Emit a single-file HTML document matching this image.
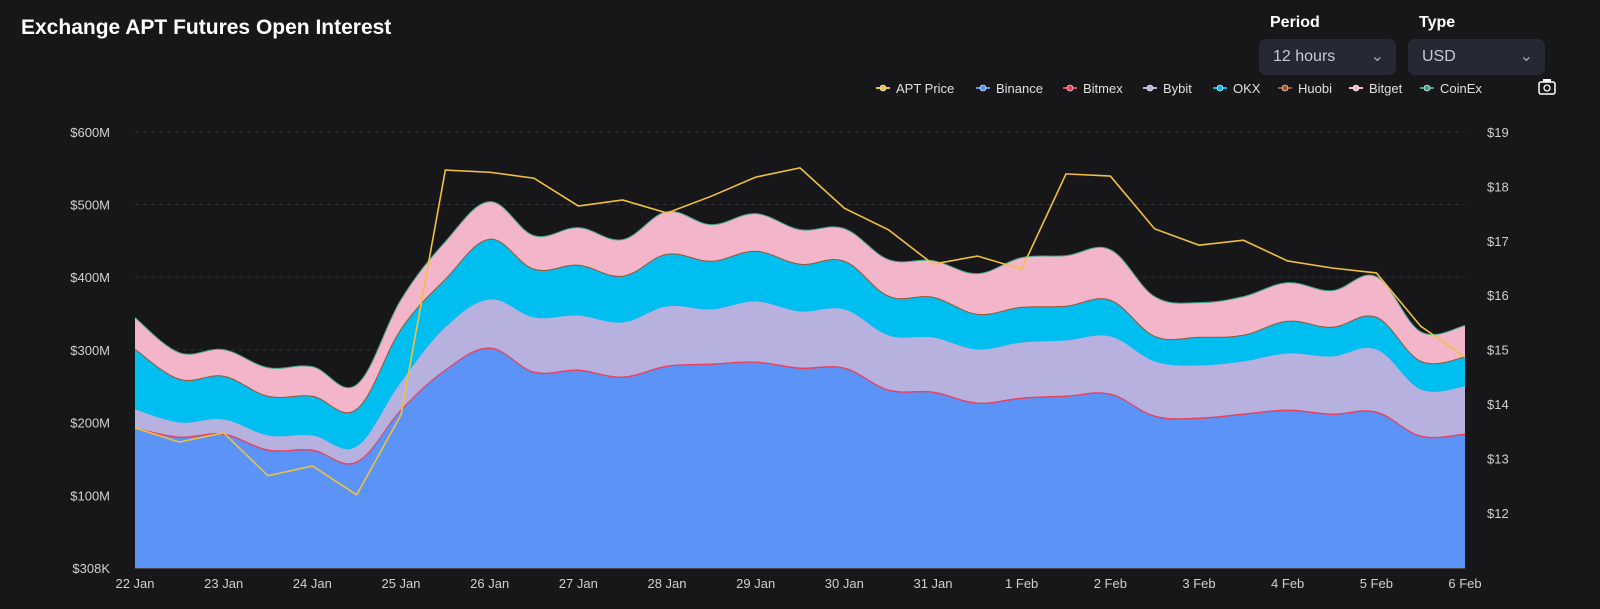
<!DOCTYPE html>
<html><head><meta charset="utf-8">
<style>
html,body{margin:0;padding:0;background:#17171a;width:1600px;height:609px;overflow:hidden;font-family:"Liberation Sans",sans-serif;color:#fff}
.title{position:absolute;left:21px;top:16px;font-size:21px;font-weight:bold}
.lbl{position:absolute;top:14px;font-size:16px;font-weight:bold}
.sel{position:absolute;top:39px;height:36px;width:137px;background:#262833;border-radius:7px;font-size:16px;color:#c8cad4;line-height:36px;box-sizing:border-box;padding-left:14px}
.sel span{position:absolute;right:12px;top:0;color:#aaa}
svg{position:absolute;left:0;top:0}
</style></head><body>
<div class="title">Exchange APT Futures Open Interest</div>
<div class="lbl" style="left:1270px">Period</div>
<div class="lbl" style="left:1419px">Type</div>
<div class="sel" style="left:1259px">12 hours<span>&#8964;</span></div>
<div class="sel" style="left:1408px">USD<span>&#8964;</span></div>
<svg id="c" width="1600" height="609"></svg>
<script>
const categories=["22 Jan","","23 Jan","","24 Jan","","25 Jan","","26 Jan","","27 Jan","","28 Jan","","29 Jan","","30 Jan","","31 Jan","","1 Feb","","2 Feb","","3 Feb","","4 Feb","","5 Feb","","6 Feb"];
const binance=[190.6,178.2,182.3,160.3,160.3,143.8,215.3,270.3,300.6,267.6,270.3,260.7,275.8,278.6,281.4,273.1,273.1,242.9,240.1,225,231.8,234.6,237.3,207.1,204.3,209.8,215.3,209.8,212.6,179.6,182.3];
const bitmex=[2,2,2,2,2,2,2,2,2,2,2,2,2,2,2,2,2,2,2,2,2,2,2,2,2,2,2,2,2,2,2];
const bybit=[24.7,19.2,19.3,19.3,19.3,20.6,37.2,57.8,66,74.3,74.3,74.3,81.2,74.3,82.5,77,79.8,74.2,74.3,72.9,75.7,75.6,78.4,74.3,71.6,71.6,77.1,78.4,85.3,63.3,64.7];
const okx=[82.6,59.2,59.1,53.6,53.6,50.9,72.9,66,82.6,66,68.8,63.3,71.5,66,68.8,64.7,66,53.7,55,48.1,48.1,46.8,49.6,34.3,38.5,35.7,44,39.9,44,38.5,39.9];
const huobi=[1,1,1,1,1,1,1,1,1,1,1,1,1,1,1,1,1,1,1,1,1,1,1,1,1,1,1,1,1,1,1];
const bitget=[43,36.1,36.2,38.9,40.3,33.4,40.2,51.3,51.2,45.8,51.3,49.9,58.2,49.9,51.2,47.1,44.4,49.9,49.9,55.4,67.8,69.1,69.1,54.1,47.1,52.7,52.6,49.9,55.4,40.2,43];
const coinex=[0.5,0.5,0.5,0.5,0.5,0.5,0.5,0.5,0.5,0.5,0.5,0.5,0.5,0.5,0.5,0.5,0.5,0.5,0.5,0.5,0.5,0.5,0.5,0.5,0.5,0.5,0.5,0.5,0.5,0.5,0.5];
const price=[13.56,13.3,13.47,12.68,12.86,12.33,13.8,18.3,18.26,18.15,17.64,17.75,17.51,17.82,18.17,18.34,17.6,17.2,16.57,16.72,16.48,18.23,18.19,17.22,16.92,17.01,16.63,16.5,16.41,15.43,14.86];
const leftTicks=["$308K","$100M","$200M","$300M","$400M","$500M","$600M"];
const rightTicks=[12,13,14,15,16,17,18,19];

const NS="http://www.w3.org/2000/svg";
const svg=document.getElementById('c');
const X0=135,X1=1465;
const xs=i=>X0+i*(X1-X0)/(categories.length-1);
const yL=v=>568-v*0.727;
const yR=p=>132+(19-p)*54.4;
function mk(t,a,p){const e=document.createElementNS(NS,t);for(const k in a)e.setAttribute(k,a[k]);(p||svg).appendChild(e);return e;}
// grid
for(let k=0;k<leftTicks.length;k++){
  const y=yL(k*100);
  if(k>0){const g=mk('line',{x1:X0,x2:X1,y1:y,y2:y,stroke:'#333338','stroke-dasharray':'4,4'});
  
  }
  const t=mk('text',{x:110,y:y+5,'text-anchor':'end',fill:'#d0d0d0','font-size':13});
  t.textContent=leftTicks[k];
  
  
}
rightTicks.forEach(p=>{
  const t=mk('text',{x:1487,y:yR(p)+5,fill:'#d0d0d0','font-size':13});
  t.textContent='$'+p;
  
  
});
mk('line',{x1:X0,x2:X1,y1:568,y2:568,stroke:'#777'});
categories.forEach((c,i)=>{
  if(!c)return;
  const t=mk('text',{x:xs(i),y:588,'text-anchor':'middle',fill:'#d0d0d0','font-size':13});
  t.textContent=c;
  
  
});
const wm=mk('text',{x:790,y:378,'text-anchor':'middle',fill:'#ffffff','fill-opacity':0.06,'font-size':64,'font-weight':'bold'});
wm.textContent='coinglass.com';


// stacking
const series=[["Binance",binance,'#5b93f6'],["Bitmex",bitmex,'#e8425f'],["Bybit",bybit,'#b7b1e0'],["OKX",okx,'#00bff0'],["Huobi",huobi,'#a0522d'],["Bitget",bitget,'#f2b5c9'],["CoinEx",coinex,'#3fa58a']];
let cum=binance.map(()=>0);const tops=[];
series.forEach(s=>{cum=cum.map((v,i)=>v+s[1][i]);tops.push(cum.slice());});
function smooth(pts){
  let d='';const n=pts.length;
  for(let i=0;i<n;i++){
    if(i===0){d+='M'+pts[0][0]+','+pts[0][1];continue;}
    const p0=pts[Math.max(i-2,0)],p1=pts[i-1],p2=pts[i],p3=pts[Math.min(i+1,n-1)];
    const t=0.18;
    const c1=[p1[0]+(p2[0]-p0[0])*t,p1[1]+(p2[1]-p0[1])*t];
    const c2=[p2[0]-(p3[0]-p1[0])*t,p2[1]-(p3[1]-p1[1])*t];
    d+='C'+c1[0]+','+c1[1]+' '+c2[0]+','+c2[1]+' '+p2[0]+','+p2[1];
  }
  return d;
}
for(let k=series.length-1;k>=0;k--){
  const pts=tops[k].map((v,i)=>[xs(i),yL(v)]);
  const line=smooth(pts);
  const a=mk('path',{d:line+'L'+X1+',568L'+X0+',568Z',fill:series[k][2]});
  
  
}
for(let k=0;k<series.length;k++){
  const pts=tops[k].map((v,i)=>[xs(i),yL(v)]);
  const l=mk('path',{d:smooth(pts),fill:'none',stroke:series[k][2],'stroke-width':1});
  
  
}
const pl=mk('polyline',{points:price.map((p,i)=>xs(i)+','+yR(p)).join(' '),fill:'none',stroke:'#f0c040','stroke-width':1.6});


// legend
const leg=[["APT Price",'#f0c040',876],["Binance",'#5b93f6',976],["Bitmex",'#e8425f',1063],["Bybit",'#b7b1e0',1143],["OKX",'#00bff0',1213],["Huobi",'#a0522d',1278],["Bitget",'#f2b5c9',1349],["CoinEx",'#3fa58a',1420]];
leg.forEach(l=>{
  const g=mk('g',{});
  
  
  mk('line',{x1:l[2],x2:l[2]+14,y1:88,y2:88,stroke:l[1],'stroke-width':2},g);
  mk('circle',{cx:l[2]+7,cy:88,r:3,fill:l[1],stroke:'#fff','stroke-width':0.6},g);
  const t=mk('text',{x:l[2]+20,y:93,fill:'#e0e0e0','font-size':13},g);t.textContent=l[0];
});
const cam=mk('g',{});


mk('rect',{x:1539,y:82,width:16,height:12,rx:2,fill:'none',stroke:'#fff','stroke-width':1.5},cam);
mk('circle',{cx:1547,cy:88,r:3,fill:'none',stroke:'#fff','stroke-width':1.3},cam);
mk('rect',{x:1543,y:79,width:8,height:3,fill:'#fff'},cam);
</script>
</body></html>
